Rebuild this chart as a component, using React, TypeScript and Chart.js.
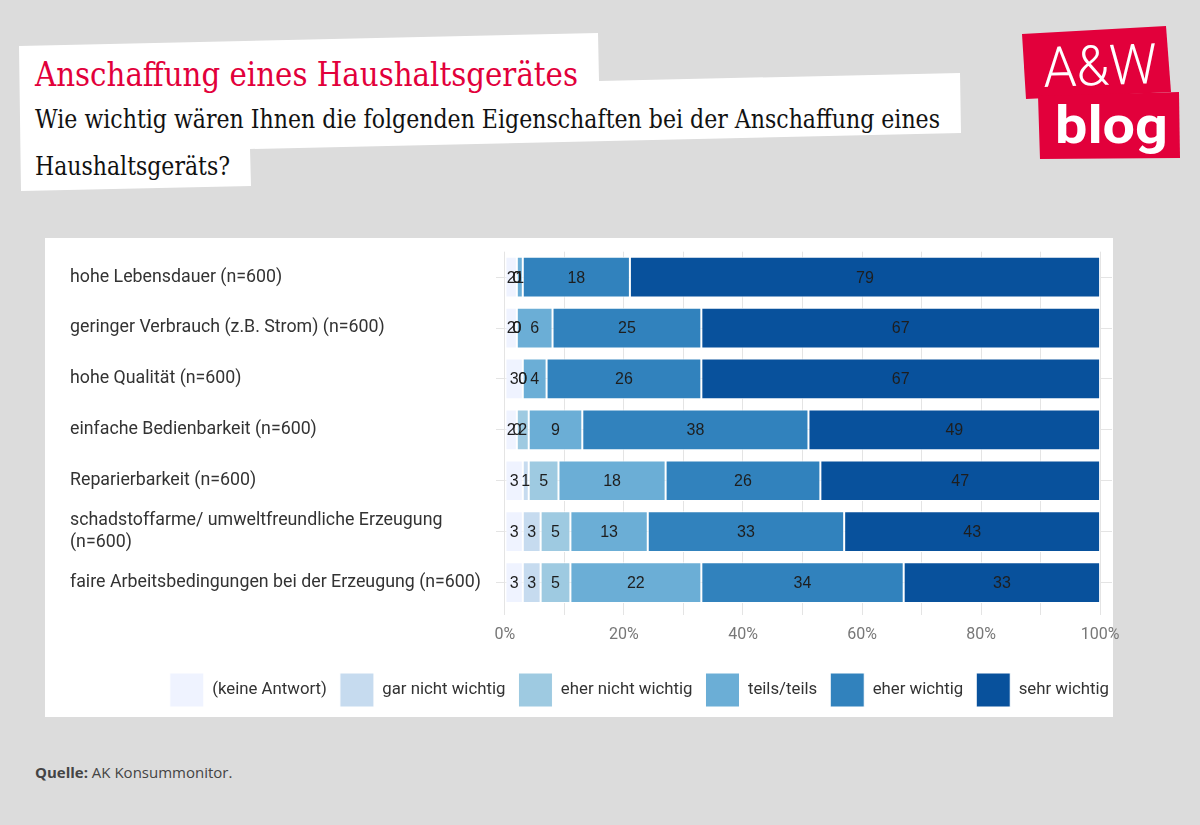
import React, { useEffect, useRef } from 'react';
import { Chart, registerables } from 'chart.js';

Chart.register(...registerables);

const CATEGORIES: (string | string[])[] = [
  'hohe Lebensdauer (n=600)',
  'geringer Verbrauch (z.B. Strom) (n=600)',
  'hohe Qualität (n=600)',
  'einfache Bedienbarkeit (n=600)',
  'Reparierbarkeit (n=600)',
  ['schadstoffarme/ umweltfreundliche Erzeugung', '(n=600)'],
  'faire Arbeitsbedingungen bei der Erzeugung (n=600)',
];

const SERIES_NAMES = [
  '(keine Antwort)',
  'gar nicht wichtig',
  'eher nicht wichtig',
  'teils/teils',
  'eher wichtig',
  'sehr wichtig',
];

const KEINE_ANTWORT = [2, 2, 3, 2, 3, 3, 3];
const GAR_NICHT_WICHTIG = [0, 0, 0, 0, 1, 3, 3];
const EHER_NICHT_WICHTIG = [0, 0, 0, 2, 5, 5, 5];
const TEILS_TEILS = [1, 6, 4, 9, 18, 13, 22];
const EHER_WICHTIG = [18, 25, 26, 38, 26, 33, 34];
const SEHR_WICHTIG = [79, 67, 67, 49, 47, 43, 33];

const SERIES_COLORS = ['#eff3ff', '#c6dbef', '#9ecae1', '#6baed6', '#3182bd', '#08519c'];

const X_TICKS = [0, 10, 20, 30, 40, 50, 60, 70, 80, 90, 100];
const X_LABEL_EVERY = 20;

const valueLabels = {
  id: 'valueLabels',
  afterDatasetsDraw(chart: any) {
    const ctx = chart.ctx;
    ctx.save();
    ctx.font = '16px "Liberation Sans", Arial, sans-serif';
    ctx.fillStyle = '#1e1e1e';
    ctx.textAlign = 'center';
    ctx.textBaseline = 'middle';
    chart.data.datasets.forEach((ds: any, di: number) => {
      const meta = chart.getDatasetMeta(di);
      meta.data.forEach((el: any, i: number) => {
        const v = ds.data[i];
        const x = (el.x + el.base) / 2;
        ctx.fillText(String(v), x, el.y + 1);
      });
    });
    ctx.restore();
  },
};

function BarChart() {
  const ref = useRef<HTMLCanvasElement | null>(null);
  useEffect(() => {
    if (!ref.current) return;
    const seriesValues = [
      KEINE_ANTWORT,
      GAR_NICHT_WICHTIG,
      EHER_NICHT_WICHTIG,
      TEILS_TEILS,
      EHER_WICHTIG,
      SEHR_WICHTIG,
    ];
    const chart = new Chart(ref.current, {
      type: 'bar',
      data: {
        labels: CATEGORIES as any,
        datasets: seriesValues.map((vals, i) => ({
          label: SERIES_NAMES[i],
          data: vals,
          backgroundColor: SERIES_COLORS[i],
          borderColor: '#ffffff',
          borderWidth: 1,
          borderSkipped: false,
          barPercentage: 0.8,
          categoryPercentage: 1,
        })),
      },
      options: {
        indexAxis: 'y',
        responsive: false,
        animation: false,
        layout: { padding: { left: 25, right: 8, top: 12, bottom: 0 } },
        scales: {
          x: {
            stacked: true,
            min: -1.5,
            max: 102,
            afterBuildTicks: (scale: any) => {
              scale.ticks = X_TICKS.map((v) => ({ value: v }));
            },
            afterFit: (scale: any) => {
              scale.height = 52;
              scale.paddingRight = 18;
              scale.paddingLeft = 0;
            },
            ticks: {
              autoSkip: false,
              maxRotation: 0,
              padding: 10,
              color: '#777',
              font: { family: 'Roboto', size: 16 },
              callback: (v: any) => (Number(v) % X_LABEL_EVERY === 0 ? `${v}%` : ''),
            },
            grid: {
              color: '#e4e4e4',
              lineWidth: 1,
              drawTicks: true,
              tickLength: 7,
              tickColor: '#e4e4e4',
            },
            border: { display: false },
          },
          y: {
            stacked: true,
            afterFit: (scale: any) => {
              scale.width = 426;
            },
            ticks: {
              crossAlign: 'far',
              color: '#333',
              font: { family: 'Roboto', size: 17.8, lineHeight: 1.2 },
            },
            grid: {
              offset: false,
              color: '#e4e4e4',
              drawTicks: false,
            },
            border: { display: false },
          },
        },
        plugins: {
          tooltip: { enabled: false },
          legend: {
            position: 'bottom',
            align: 'end',
            labels: {
              boxWidth: 34,
              boxHeight: 34,
              padding: 13,
              color: '#333',
              font: { family: 'Roboto', size: 16.8 },
            },
          },
        },
      },
      plugins: [valueLabels],
    } as any);
    return () => chart.destroy();
  }, []);
  return (
    <canvas
      ref={ref}
      width={1085}
      height={479}
      style={{ position: 'absolute', left: 0, top: 0, display: 'block', width: 1085, height: 479 }}
    />
  );
}

export default function App() {
  return (
    <div
      style={{
        position: 'fixed',
        left: 0,
        top: 0,
        width: 1200,
        height: 825,
        background: '#dcdcdc',
        overflow: 'hidden',
      }}
    >
      <svg width={1200} height={240} style={{ position: 'absolute', left: 0, top: 0 }}>
        <polygon
          points="19,46 598,33 599,81 960,73 961,133 250,149 251,186 21,191"
          fill="#ffffff"
        />
        <text
          x={35}
          y={86}
          fontFamily="'DejaVu Serif Condensed', 'DejaVu Serif', serif"
          fontSize={34}
          fill="#e2003b"
          textLength={543}
          lengthAdjust="spacingAndGlyphs"
        >
          Anschaffung eines Haushaltsgerätes
        </text>
        <text
          x={35}
          y={128}
          fontFamily="'DejaVu Serif Condensed', 'DejaVu Serif', serif"
          fontSize={26}
          fill="#111"
          textLength={905}
          lengthAdjust="spacingAndGlyphs"
        >
          Wie wichtig wären Ihnen die folgenden Eigenschaften bei der Anschaffung eines
        </text>
        <text
          x={35}
          y={175}
          fontFamily="'DejaVu Serif Condensed', 'DejaVu Serif', serif"
          fontSize={26}
          fill="#111"
          textLength={195}
          lengthAdjust="spacingAndGlyphs"
        >
          Haushaltsgeräts?
        </text>
        <polygon points="1022,34 1166,26 1171,92 1026,99" fill="#e2003b" />
        <polygon points="1038,96 1179,92 1180,158 1040,159" fill="#e2003b" />
        <text
          x={1043}
          y={85}
          fontFamily="Roboto, sans-serif"
          fontWeight={300}
          fontSize={56}
          fill="#ffffff"
          textLength={114}
          lengthAdjust="spacingAndGlyphs"
          transform="rotate(-2 1100 65)"
        >
          A&amp;W
        </text>
        <text
          x={1055}
          y={143}
          fontFamily="Roboto, sans-serif"
          fontWeight={700}
          fontSize={52}
          fill="#ffffff"
          textLength={113}
          lengthAdjust="spacingAndGlyphs"
        >
          blog
        </text>
      </svg>
      <div style={{ position: 'absolute', left: 45, top: 238, width: 1068, height: 479, background: '#fff' }} />
      <div style={{ position: 'absolute', left: 45, top: 238, width: 1085, height: 479 }}>
        <BarChart />
      </div>
      <div
        style={{
          position: 'absolute',
          left: 35,
          top: 762,
          fontFamily: "'Open Sans', sans-serif",
          fontSize: 15,
          color: '#444',
          whiteSpace: 'nowrap',
        }}
      >
        <b>Quelle:</b> AK Konsummonitor.
      </div>
    </div>
  );
}
